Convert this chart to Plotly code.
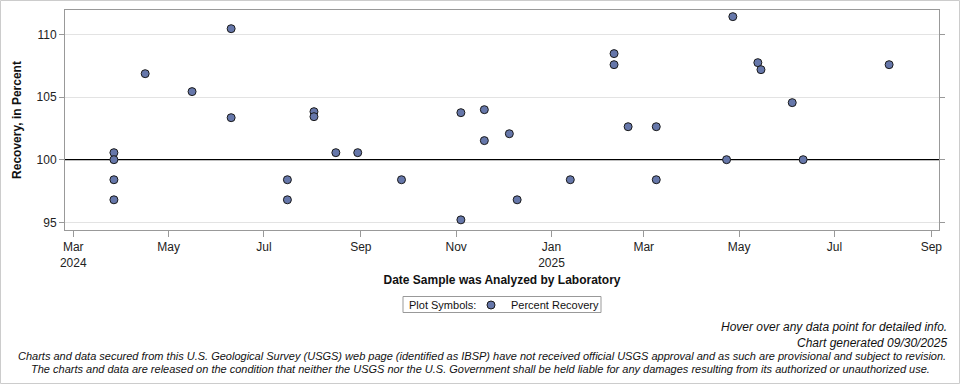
import plotly.graph_objects as go

# ---- data ----
sample_dates = [
    "2024-03-27", "2024-03-27", "2024-03-27", "2024-03-27",
    "2024-04-16", "2024-05-16", "2024-06-10", "2024-06-10",
    "2024-07-16", "2024-07-16", "2024-08-02", "2024-08-02",
    "2024-08-16", "2024-08-30", "2024-09-27",
    "2024-11-04", "2024-11-04", "2024-11-19", "2024-11-19",
    "2024-12-05", "2024-12-10", "2025-01-13",
    "2025-02-10", "2025-02-10", "2025-02-19",
    "2025-03-09", "2025-03-09", "2025-04-23", "2025-04-27",
    "2025-05-13", "2025-05-15", "2025-06-04", "2025-06-11", "2025-08-05",
]
percent_recovery = [
    100.56, 100.0, 98.4, 96.8,
    106.86, 105.43, 110.45, 103.35,
    98.4, 96.8, 103.83, 103.43,
    100.56, 100.56, 98.4,
    103.75, 95.2, 103.99, 101.52,
    102.07, 96.8, 98.4,
    108.46, 107.58, 102.63,
    102.63, 98.4, 100.0, 111.41,
    107.74, 107.18, 104.55, 100.0, 107.58,
]

x_tick_dates = ["2024-03-01", "2024-05-01", "2024-07-01", "2024-09-01",
                "2024-11-01", "2025-01-01", "2025-03-01", "2025-05-01",
                "2025-07-01", "2025-09-01"]
x_tick_labels = ["Mar<br>2024", "May", "Jul", "Sep", "Nov", "Jan<br>2025",
                 "Mar", "May", "Jul", "Sep"]
y_tick_values = [95, 100, 105, 110]
reference_value = 100
legend_title = "Plot Symbols:"

footer_lines = [
    "Hover over any data point for detailed info.",
    "Chart generated 09/30/2025",
    "Charts and data secured from this U.S. Geological Survey (USGS) web page (identified as IBSP) have not received official USGS approval and as such are provisional and subject to revision.",
    "The charts and data are released on the condition that neither the USGS nor the U.S. Government shall be held liable for any damages resulting from its authorized or unauthorized use.",
]

# ---- layout geometry ----
W, H = 960, 384
L, R, T, B = 65, 21, 10, 154
PW, PH = W - L - R, H - T - B
X_RANGE = ["2024-02-24 16:48", "2025-09-05 22:00"]
Y_RANGE = [94.39, 111.94]


def px_x(px):
    return (px - L) / PW


def px_y(py):
    return (H - B - py) / PH


FONT = "Liberation Sans, Arial, sans-serif"
NARROW = "Liberation Sans Narrow, Arial Narrow, Liberation Sans, sans-serif"

fig = go.Figure()
# reference line at 100 % (drawn under the markers, above the grid)
fig.add_trace(go.Scatter(
    x=X_RANGE, y=[reference_value, reference_value], mode="lines",
    line=dict(color="black", width=1.3), hoverinfo="skip", showlegend=False,
))
fig.add_trace(go.Scatter(
    x=sample_dates, y=percent_recovery, mode="markers",
    name="Percent Recovery",
    marker=dict(size=8, color="#6677AA", line=dict(color="#1a1a1a", width=1)),
))

fig.update_layout(
    width=W, height=H,
    margin=dict(l=L, r=R, t=T, b=B),
    paper_bgcolor="white", plot_bgcolor="white",
    font=dict(family=FONT, size=12, color="#111111"),
    showlegend=True,
    legend=dict(
        orientation="h", x=px_x(471), xanchor="left", y=px_y(305), yanchor="middle",
        font=dict(size=11, family=FONT),
        borderwidth=0, bgcolor="rgba(0,0,0,0)",
        itemsizing="trace", tracegroupgap=0, itemwidth=30,
    ),
    xaxis=dict(
        type="date",
        range=X_RANGE,
        tickvals=x_tick_dates, ticktext=x_tick_labels,
        ticks="outside", ticklen=6, tickcolor="#999999",
        showline=True, linecolor="#999999", linewidth=1, mirror=True,
        showgrid=False, zeroline=False,
        tickfont=dict(size=12, color="#222222"),
        title=dict(text="<b>Date Sample was Analyzed by Laboratory</b>",
                   font=dict(size=12, color="#111111"), standoff=6),
    ),
    yaxis=dict(
        range=Y_RANGE,
        tickvals=y_tick_values,
        ticks="outside", ticklen=5, tickcolor="#999999",
        showline=True, linecolor="#999999", linewidth=1, mirror="ticks",
        showgrid=True, gridcolor="#e3e3e3", zeroline=False,
        tickfont=dict(size=12, color="#222222"),
        title=dict(text="<b>Recovery, in Percent</b>",
                   font=dict(size=12, color="#111111"), standoff=12),
    ),
)

# legend frame and its label
fig.add_shape(type="rect", xref="paper", yref="paper",
              x0=px_x(403), x1=px_x(601), y0=px_y(312.5), y1=px_y(296.5),
              line=dict(color="#999999", width=1), fillcolor="white", layer="below")
fig.add_annotation(text=legend_title, xref="paper", yref="paper",
                   x=px_x(407), y=px_y(304.5), xanchor="left", yanchor="middle",
                   showarrow=False, font=dict(family=FONT, size=11, color="#111111"))

# footer texts
fig.add_annotation(text="<i>" + footer_lines[0] + "</i>", xref="paper", yref="paper",
                   x=px_x(949), y=px_y(327), xanchor="right", yanchor="middle",
                   showarrow=False, font=dict(family=FONT, size=12, color="#111111"))
fig.add_annotation(text="<i>" + footer_lines[1] + "</i>", xref="paper", yref="paper",
                   x=px_x(949), y=px_y(343), xanchor="right", yanchor="middle",
                   showarrow=False, font=dict(family=FONT, size=12, color="#111111"))
fig.add_annotation(text="<i>" + footer_lines[2] + "</i>", xref="paper", yref="paper",
                   x=px_x(482), y=px_y(356), xanchor="center", yanchor="middle",
                   showarrow=False, font=dict(family=NARROW, size=11, color="#111111"))
fig.add_annotation(text="<i>" + footer_lines[3] + "</i>", xref="paper", yref="paper",
                   x=px_x(480), y=px_y(369), xanchor="center", yanchor="middle",
                   showarrow=False, font=dict(family=NARROW, size=11, color="#111111"))

# outer light border of the whole image
fig.add_shape(type="rect", xref="paper", yref="paper",
              x0=px_x(0.5), x1=px_x(959.5), y0=px_y(383.5), y1=px_y(0.5),
              line=dict(color="#cccccc", width=1), fillcolor="rgba(0,0,0,0)", layer="below")

fig.write_html("out.html", config={"displayModeBar": False},
               post_script="document.body.style.margin='0';document.body.style.padding='0';")
